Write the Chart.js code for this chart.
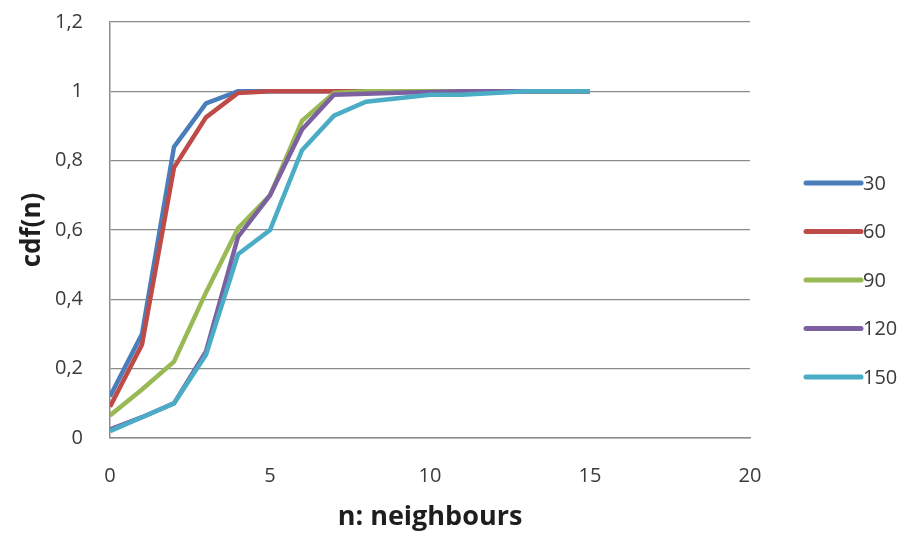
<!DOCTYPE html>
<html>
<head>
<meta charset="utf-8">
<script src="https://cdn.jsdelivr.net/npm/chart.js@4/dist/chart.umd.min.js"></script>
<style>
  html, body { margin: 0; padding: 0; background: #ffffff; }
  #wrap { width: 909px; height: 534px; }
</style>
</head>
<body>
<div id="wrap"><canvas id="c" width="909" height="534"></canvas></div>
<script>
// n: number of neighbours (x values)
const neighbours = [0, 1, 2, 3, 4, 5, 6, 7, 8, 9, 10, 11, 12, 13, 14, 15];

// cumulative distribution per series
const seriesLabels = ['30', '60', '90', '120', '150'];
const cdf30  = [0.12, 0.30, 0.84, 0.965, 1.0, 1.0, 1.0, 1.0, 1.0, 1.0, 1.0, 1.0, 1.0, 1.0, 1.0, 1.0];
const cdf60  = [0.09, 0.27, 0.78, 0.925, 0.995, 1.0, 1.0, 1.0, 1.0, 1.0, 1.0, 1.0, 1.0, 1.0, 1.0, 1.0];
const cdf90  = [0.065, 0.14, 0.22, 0.42, 0.605, 0.70, 0.915, 0.995, 1.0, 1.0, 1.0, 1.0, 1.0, 1.0, 1.0, 1.0];
const cdf120 = [0.025, 0.06, 0.10, 0.25, 0.58, 0.70, 0.89, 0.99, 0.993, 0.996, 0.998, 1.0, 1.0, 1.0, 1.0, 1.0];
const cdf150 = [0.02, 0.06, 0.10, 0.24, 0.53, 0.60, 0.83, 0.93, 0.97, 0.98, 0.99, 0.99, 0.995, 1.0, 1.0, 1.0];
const seriesValues = [cdf30, cdf60, cdf90, cdf120, cdf150];
const seriesColors = ['#4a7ebb', '#be4b48', '#98b954', '#7d60a0', '#4bacc6'];

// axis tick values
const xTicks = [0, 5, 10, 15, 20];
const yTicks = [0, 0.2, 0.4, 0.6, 0.8, 1, 1.2];

const FONT = '"Open Sans", Lato, "DejaVu Sans", sans-serif';
const TEXT = '#3a3a3a';
const TITLE = '#1e1e1e';
const GRID = '#8c8c8c';

const datasets = seriesValues.map((vals, i) => ({
  label: seriesLabels[i],
  data: neighbours.map((n, j) => ({ x: n, y: vals[j] })),
  borderColor: seriesColors[i],
  backgroundColor: seriesColors[i],
  borderWidth: 4.5,
  pointRadius: 0,
  tension: 0,
  fill: false,
  // later series are painted on top
  order: seriesValues.length - i
}));

// Legend drawn at the right of the plot: a short line sample and the label
const sideLegend = {
  id: 'sideLegend',
  afterDraw(chart) {
    const ctx = chart.ctx;
    const area = chart.chartArea;
    const x0 = area.right + 56;
    const x1 = x0 + 55;
    const top = 183;
    const step = 48.5;
    ctx.save();
    ctx.font = '20px ' + FONT;
    ctx.textBaseline = 'middle';
    ctx.textAlign = 'left';
    seriesLabels.forEach((lab, i) => {
      const y = top + i * step;
      ctx.strokeStyle = seriesColors[i];
      ctx.lineWidth = 5;
      ctx.lineCap = 'round';
      ctx.beginPath();
      ctx.moveTo(x0, y);
      ctx.lineTo(x1, y);
      ctx.stroke();
      ctx.fillStyle = TEXT;
      ctx.fillText(lab, x1 + 2, y + 1);
    });
    ctx.restore();
  }
};

new Chart(document.getElementById('c'), {
  type: 'line',
  data: { datasets },
  options: {
    responsive: false,
    animation: false,
    layout: { padding: { left: 0, right: 159, top: 22, bottom: 0 } },
    plugins: {
      legend: { display: false },
      tooltip: { enabled: false }
    },
    scales: {
      x: {
        type: 'linear',
        min: 0,
        max: 20,
        afterBuildTicks(scale) { scale.ticks = xTicks.map(v => ({ value: v })); },
        afterFit(scale) { scale.height = 96; },
        grid: { display: false, drawTicks: false },
        border: { display: true, color: GRID, width: 1.5 },
        ticks: {
          color: TEXT,
          font: { family: FONT, size: 20 },
          padding: 26,
          maxRotation: 0
        },
        title: {
          display: true,
          text: 'n: neighbours',
          color: TITLE,
          font: { family: FONT, size: 27, weight: 'bold' },
          padding: { top: 0, bottom: 0 }
        }
      },
      y: {
        min: 0,
        max: 1.2,
        afterBuildTicks(scale) { scale.ticks = yTicks.map(v => ({ value: v })); },
        afterFit(scale) { scale.width = 110; },
        // invisible tick marks keep the labels clear of the axis line
        grid: { color: GRID, lineWidth: 1.2, drawTicks: true, tickLength: 27, tickColor: 'rgba(0,0,0,0)' },
        border: { display: true, color: GRID, width: 1.5 },
        ticks: {
          color: TEXT,
          font: { family: FONT, size: 20 },
          padding: 0,
          callback: v => String(Math.round(v * 10) / 10).replace('.', ',')
        },
        title: {
          display: true,
          text: 'cdf(n)',
          color: TITLE,
          font: { family: FONT, size: 26, weight: 'bold' },
          padding: { top: 17, bottom: 0 }
        }
      }
    }
  },
  plugins: [sideLegend]
});
</script>
</body>
</html>
